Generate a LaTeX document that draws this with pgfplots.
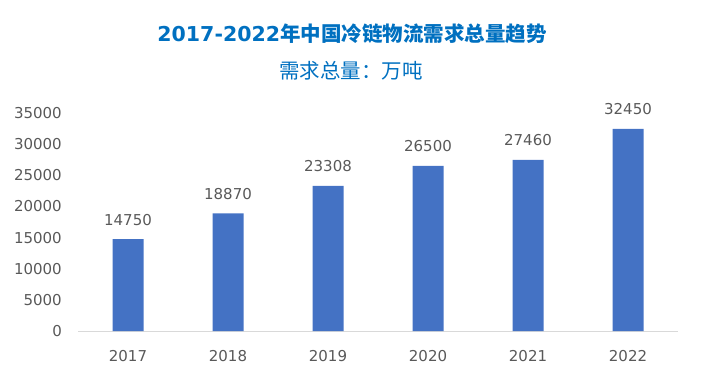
\documentclass[border=0pt]{standalone}
\usepackage{pgfplots}
\pgfplotsset{compat=1.18}
\usepackage{fontspec}
\setmainfont{DejaVu Sans}
\newfontfamily\cjk{Noto Sans CJK SC}
\newfontfamily\cjkb{Noto Sans CJK SC Bold}
\definecolor{barblue}{HTML}{4472C4}
\definecolor{titleblue}{HTML}{0070C0}
\definecolor{txtgray}{HTML}{595959}
\definecolor{axgray}{HTML}{D9D9D9}
\begin{document}
\begin{tikzpicture}[x=1bp,y=1bp]
\useasboundingbox (0,0) rectangle (701,380);
\begin{axis}[
  at={(78bp,49bp)}, anchor=south west,
  scale only axis, width=600bp, height=218bp,
  xmin=-0.5, xmax=5.5, ymin=0, ymax=35000,
  ybar, bar width=31bp,
  axis x line=bottom, axis y line=left,
  x axis line style={draw=axgray, line width=0.8bp, -},
  y axis line style={draw=none},
  xtick=data,
  xticklabels={2017,2018,2019,2020,2021,2022},
  ytick={0,5000,...,35000},
  scaled y ticks=false,
  major tick length=0pt,
  /pgf/number format/1000 sep={},
  /pgf/number format/assume math mode=true,
  tick label style={font=\fontsize{15bp}{18bp}\selectfont, text=txtgray, inner sep=0pt},
  yticklabel style={anchor=east, xshift=-16bp},
  xticklabel style={anchor=center, yshift=-25bp},
  nodes near coords,
  every node near coord/.append style={font=\fontsize{15bp}{18bp}\selectfont, text=txtgray, inner sep=0pt, anchor=center, yshift=19.5bp},
  clip=false,
]
\addplot[fill=barblue, draw=none] coordinates {(0,14750) (1,18870) (2,23308) (3,26500) (4,27460) (5,32450)};
\end{axis}
\node[text=titleblue, inner sep=0pt] at (352,346) {\fontsize{20.5bp}{24bp}\selectfont\bfseries 2017-2022\cjkb 年中国冷链物流需求总量趋势};
\node[text=titleblue, inner sep=0pt] at (351,309) {\fontsize{20.5bp}{24bp}\selectfont\cjk 需求总量：万吨};
\end{tikzpicture}
\end{document}
